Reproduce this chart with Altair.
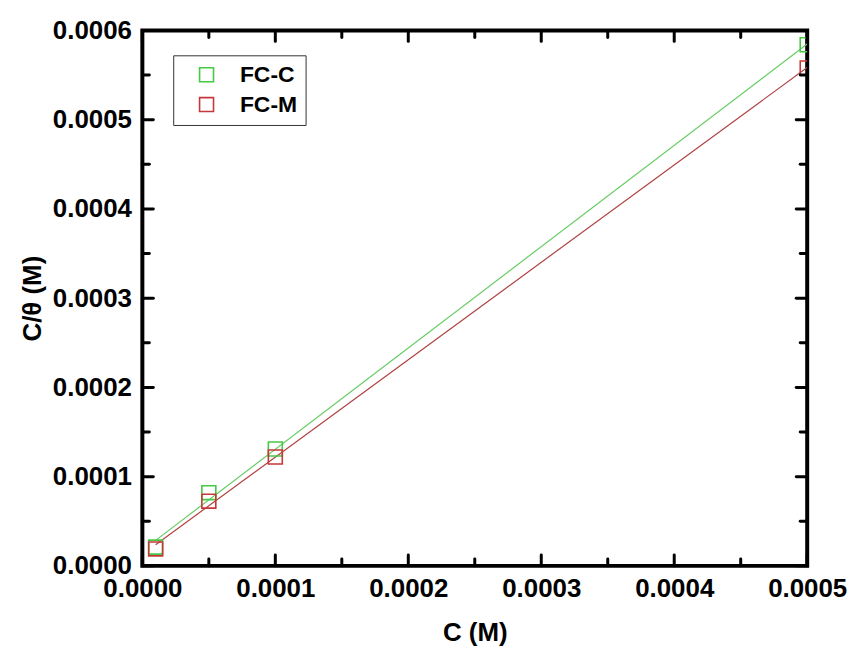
import altair as alt
import pandas as pd

# ---- data ----
conc = [0.00001, 0.00005, 0.0001, 0.0005]
fc_c = [0.000021, 0.000082, 0.000131, 0.000584]
fc_m = [0.000019, 0.0000725, 0.000122, 0.000558]
series_names = ["FC-C", "FC-M"]
point_colors = ["#45c845", "#c83737"]
line_colors = ["#66cc66", "#b04040"]

x_major = [0.0, 0.0001, 0.0002, 0.0003, 0.0004, 0.0005]
x_minor = [0.00005, 0.00015, 0.00025, 0.00035, 0.00045]
y_major = [0.0, 0.0001, 0.0002, 0.0003, 0.0004, 0.0005, 0.0006]
y_minor = [0.00005, 0.00015, 0.00025, 0.00035, 0.00045, 0.00055]

W, H = 668, 538
FONT = "Liberation Sans"

df = pd.DataFrame({
    "C": conc + conc,
    "Y": fc_c + fc_m,
    "series": [series_names[0]] * len(conc) + [series_names[1]] * len(conc),
})

xscale = alt.Scale(domain=[0, 0.0005], nice=False, zero=False)
yscale = alt.Scale(domain=[0, 0.0006], nice=False, zero=False)

x_axis = alt.Axis(
    title="C (M)", values=x_major, format=".4f", grid=False, ticks=False,
    tickSize=0, domain=False, labelFlush=False, labelPadding=10,
    labelFont=FONT, labelFontSize=26, labelFontWeight="bold", labelColor="black",
    titleFont=FONT, titleFontSize=26, titleFontWeight="bold", titleColor="black",
    titlePadding=18,
)
y_axis = alt.Axis(
    title="C/θ (M)", values=y_major, format=".4f", grid=False, ticks=False,
    tickSize=0, domain=False, labelFlush=False, labelPadding=11,
    labelFont=FONT, labelFontSize=26, labelFontWeight="bold", labelColor="black",
    titleFont=FONT, titleFontSize=26, titleFontWeight="bold", titleColor="black",
    titlePadding=7,
)

points = alt.Chart(df).mark_point(
    shape="square", filled=False, size=196, strokeWidth=1.6, opacity=1, clip=True
).encode(
    x=alt.X("C:Q", scale=xscale, axis=x_axis),
    y=alt.Y("Y:Q", scale=yscale, axis=y_axis),
    color=alt.Color(
        "series:N",
        scale=alt.Scale(domain=series_names, range=point_colors),
        legend=alt.Legend(
            title=None, orient="none", legendX=31, legendY=25,
            strokeColor="#333333", fillColor="white", padding=8,
            labelFont=FONT, labelFontWeight="bold", labelFontSize=23,
            labelColor="black", symbolSize=196, symbolStrokeWidth=1.6,
            symbolType="square", symbolOffset=14, labelOffset=22, rowPadding=6,
        ),
    ),
)

lines = alt.Chart(df).transform_regression(
    "C", "Y", groupby=["series"], method="linear"
).mark_line(strokeWidth=1.2, clip=True).encode(
    x=alt.X("C:Q", scale=xscale, axis=x_axis),
    y=alt.Y("Y:Q", scale=yscale, axis=y_axis),
    color=alt.Color(
        "series:N",
        scale=alt.Scale(domain=series_names, range=line_colors),
        legend=None,
    ),
)


def xticks(vals, length, top):
    d = pd.DataFrame({"C": vals})
    y0 = 0 if top else H
    y1 = length if top else H - length
    return alt.Chart(d).mark_rule(color="black", strokeWidth=3, strokeCap="round").encode(
        x=alt.X("C:Q", scale=xscale, axis=x_axis),
        y=alt.value(y0), y2=alt.value(y1),
    )


def yticks(vals, length, right):
    d = pd.DataFrame({"Y": vals})
    x0 = W if right else 0
    x1 = W - length if right else length
    return alt.Chart(d).mark_rule(color="black", strokeWidth=3, strokeCap="round").encode(
        y=alt.Y("Y:Q", scale=yscale, axis=y_axis),
        x=alt.value(x0), x2=alt.value(x1),
    )


ticks = [
    xticks(x_major, 11, False), xticks(x_minor, 7, False),
    xticks(x_major, 11, True), xticks(x_minor, 7, True),
    yticks(y_major, 11, False), yticks(y_minor, 7, False),
    yticks(y_major, 11, True), yticks(y_minor, 7, True),
]

chart = alt.layer(lines, points, *ticks).resolve_scale(
    color="independent"
).properties(
    width=W, height=H,
    padding={"left": 11, "top": 8, "right": 0, "bottom": 5},
    background="white",
).configure_view(
    stroke="black", strokeWidth=4
)

chart.save("out.html", embed_options={"renderer": "svg", "actions": False})
